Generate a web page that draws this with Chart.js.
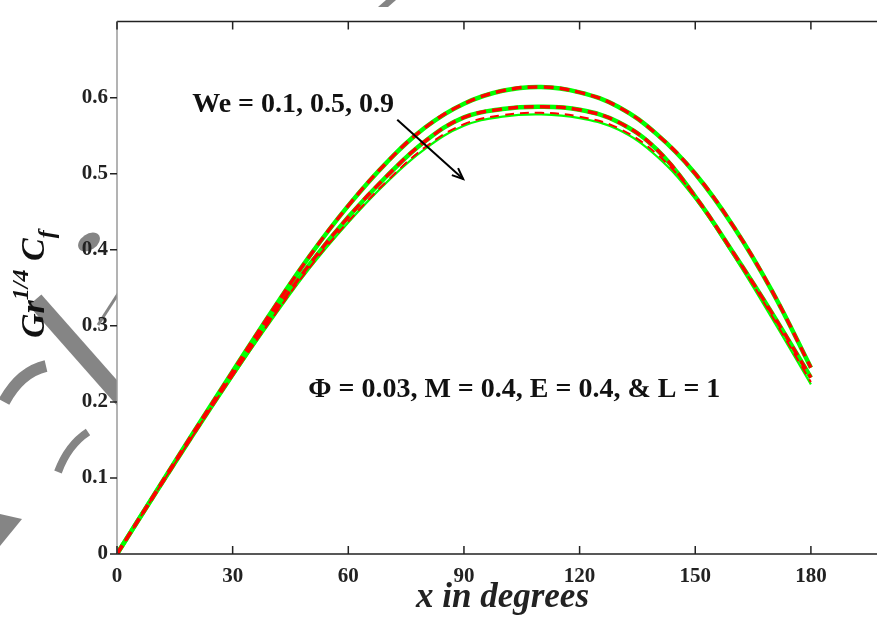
<!DOCTYPE html>
<html>
<head>
<meta charset="utf-8">
<script src="https://cdn.jsdelivr.net/npm/chart.js@4"></script>
<style>
  html,body{margin:0;padding:0;background:#fff;overflow:hidden}
  #wrap{position:relative;width:900px;height:619px}
</style>
</head>
<body>
<div id="wrap"><canvas id="myChart" width="900" height="619"></canvas></div>
<script>
const ctx = document.getElementById('myChart').getContext('2d')

// skin friction along the surface, x in degrees
const xDeg = [0,10,20,30,40,50,60,70,80,90,100,110,120,130,140,150,160,170,180]
const cfWe01 = [0,0.081,0.161,0.240,0.318,0.392,0.458,0.515,0.561,0.592,0.609,0.614,0.607,0.588,0.552,0.500,0.430,0.345,0.245]
const cfWe05 = [0,0.080,0.159,0.236,0.311,0.381,0.443,0.497,0.543,0.574,0.585,0.588,0.584,0.568,0.532,0.470,0.395,0.316,0.232]
const cfWe09 = [0,0.080,0.158,0.234,0.307,0.376,0.436,0.489,0.533,0.563,0.575,0.578,0.573,0.558,0.523,0.467,0.392,0.309,0.223]
// second (dashed) set
const cfWe01b = [0,0.081,0.161,0.240,0.318,0.392,0.458,0.515,0.561,0.592,0.609,0.614,0.607,0.588,0.552,0.500,0.430,0.345,0.245]
const cfWe05b = [0,0.080,0.159,0.236,0.311,0.381,0.443,0.497,0.543,0.574,0.585,0.588,0.584,0.568,0.532,0.470,0.395,0.316,0.232]
const cfWe09b = [0,0.080,0.158,0.235,0.308,0.377,0.437,0.490,0.535,0.565,0.577,0.580,0.575,0.560,0.526,0.470,0.395,0.312,0.226]

const xTicks = [0,30,60,90,120,150,180]
const yTicks = [0,0.1,0.2,0.3,0.4,0.5,0.6]

const weLabel = 'We = 0.1, 0.5, 0.9'
const paramLabel = 'Φ = 0.03, M = 0.4, E = 0.4, & L = 1'
// label anchors in data units
const weAt = [19.5, 0.581]
const paramAt = [49.6, 0.206]
const arrowFrom = [72.7, 0.571]
const arrowTo = [89.8, 0.493]

const pts = ys => ys.map((y,i)=>({x:xDeg[i],y}))
const serif = '"Liberation Serif","Times New Roman",serif'

const solid = (data,w)=>({data:pts(data),borderColor:'#00ff00',borderWidth:w,pointRadius:0,
  tension:0.4,fill:false,order:1})
const dashed = (data,w,dash)=>({data:pts(data),borderColor:'#ff0000',borderWidth:w,borderDash:dash,pointRadius:0,
  tension:0.4,fill:false,order:0})

// grey stamp showing through the page margins, hidden under the plot area
const stamp = {
  id:'stamp',
  beforeDraw(chart){
    const c = chart.ctx
    const {left,top} = chart.chartArea
    c.save()
    c.beginPath()
    c.rect(0,0,left,chart.height)
    c.rect(left,0,chart.width-left,top)
    c.clip()
    c.fillStyle = c.strokeStyle = '#858585'
    c.lineCap = 'butt'
    c.beginPath(); c.ellipse(89,242,12,8,-0.6,0,Math.PI*2); c.fill()
    c.lineWidth = 17
    c.beginPath(); c.moveTo(35,300); c.lineTo(125,402); c.stroke()
    c.lineWidth = 3
    c.beginPath(); c.moveTo(98,325); c.lineTo(125,283); c.stroke()
    c.lineWidth = 12
    c.beginPath(); c.moveTo(46,366); c.quadraticCurveTo(20,372,4,402); c.stroke()
    c.lineWidth = 8
    c.beginPath(); c.moveTo(88,432); c.quadraticCurveTo(68,445,58,472); c.stroke()
    c.beginPath(); c.moveTo(0,514); c.lineTo(22,519); c.lineTo(0,546); c.closePath(); c.fill()
    c.beginPath(); c.moveTo(378,7); c.lineTo(386,0); c.lineTo(396,0); c.lineTo(388,7); c.closePath(); c.fill()
    c.restore()
  }
}

const frame = {
  id:'frame',
  afterDraw(chart){
    const c = chart.ctx
    const xs = chart.scales.x, ys = chart.scales.y
    const {left,right,top,bottom} = chart.chartArea
    c.save()
    // box
    c.lineWidth = 1.5
    c.strokeStyle = '#222'
    c.beginPath()
    c.moveTo(left,bottom); c.lineTo(right,bottom)
    c.moveTo(left,top); c.lineTo(right,top)
    c.stroke()
    c.strokeStyle = '#9a9a9a'
    c.beginPath(); c.moveTo(left,top); c.lineTo(left,bottom); c.stroke()
    // x ticks point inward, top and bottom
    c.strokeStyle = '#222'
    c.beginPath()
    xTicks.forEach(v=>{
      const px = xs.getPixelForValue(v)
      c.moveTo(px,bottom); c.lineTo(px,bottom-8)
      c.moveTo(px,top); c.lineTo(px,top+8)
    })
    // y ticks point outward
    yTicks.forEach(v=>{
      const py = ys.getPixelForValue(v)
      c.moveTo(left,py); c.lineTo(left-7,py)
    })
    c.stroke()

    // annotations
    c.fillStyle = '#111'
    c.textBaseline = 'alphabetic'
    c.font = 'bold 28px ' + serif
    c.fillText(weLabel, xs.getPixelForValue(weAt[0]), ys.getPixelForValue(weAt[1]))
    c.fillText(paramLabel, xs.getPixelForValue(paramAt[0]), ys.getPixelForValue(paramAt[1]))

    const ax0 = xs.getPixelForValue(arrowFrom[0]), ay0 = ys.getPixelForValue(arrowFrom[1])
    const ax1 = xs.getPixelForValue(arrowTo[0]), ay1 = ys.getPixelForValue(arrowTo[1])
    c.strokeStyle = '#000'
    c.lineWidth = 2
    c.beginPath(); c.moveTo(ax0,ay0); c.lineTo(ax1,ay1); c.stroke()
    const ang = Math.atan2(ay1-ay0, ax1-ax0)
    c.beginPath()
    c.moveTo(ax1-12*Math.cos(ang-0.4), ay1-12*Math.sin(ang-0.4))
    c.lineTo(ax1,ay1)
    c.lineTo(ax1-12*Math.cos(ang+0.4), ay1-12*Math.sin(ang+0.4))
    c.stroke()

    // y title: Gr^(1/4) C_f, rotated
    c.translate(44, 338)
    c.rotate(-Math.PI/2)
    let x = 0
    const part = (t, size, dy)=>{
      c.font = 'italic bold ' + size + 'px ' + serif
      c.fillText(t, x, dy)
      x += c.measureText(t).width
    }
    part('Gr', 34, 0)
    part('1/4', 24, -16)
    part(' C', 34, 0)
    part('f', 24, 10)
    c.restore()
  }
}

const myChart = new Chart(ctx, {
  type:'line',
  data:{
    datasets:[
      solid(cfWe01,4.5), dashed(cfWe01b,3.5,[10,6]),
      solid(cfWe05,4.5), dashed(cfWe05b,3.5,[10,6]),
      solid(cfWe09,2.2), dashed(cfWe09b,2,[9,6]),
    ]
  },
  options:{
    responsive:false,
    animation:false,
    layout:{padding:{left:0,right:12,top:6.5,bottom:0}},
    plugins:{legend:{display:false},tooltip:{enabled:false}},
    scales:{
      x:{
        type:'linear', min:0, max:200,
        grid:{display:false,drawTicks:false},
        border:{display:false},
        afterBuildTicks: s=>{ s.ticks = xTicks.map(v=>({value:v})) },
        afterFit: s=>{ s.height = 65 },
        ticks:{padding:10,color:'#222',maxRotation:0,font:{family:serif,size:21,weight:'bold'}},
        title:{display:true,text:'x in degrees',color:'#222',padding:{top:0,bottom:0},
          font:{family:serif,size:35,weight:'bold',style:'italic'}}
      },
      y:{
        min:0, max:0.7,
        grid:{display:false,drawTicks:false},
        border:{display:false},
        afterBuildTicks: s=>{ s.ticks = yTicks.map(v=>({value:v})) },
        afterFit: s=>{ s.width = 117 },
        ticks:{padding:9,color:'#222',font:{family:serif,size:21,weight:'bold'}}
      }
    }
  },
  plugins:[stamp, frame]
})
</script>
</body>
</html>
